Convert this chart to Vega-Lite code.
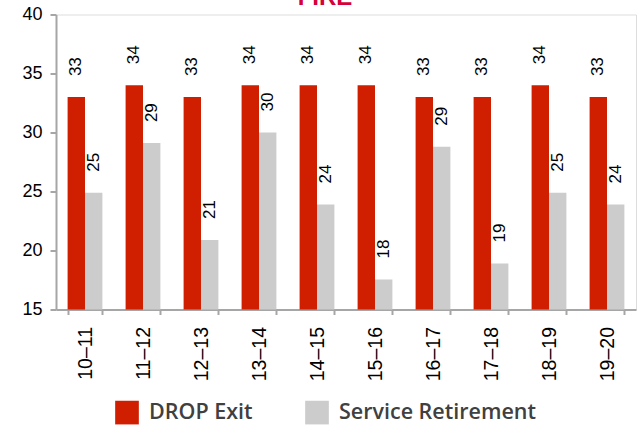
{
  "$schema": "https://vega.github.io/schema/vega-lite/v6.json",
  "width": 580,
  "height": 295,
  "autosize": "none",
  "padding": {"left": 56, "top": 14.5, "right": 2, "bottom": 117.5},
  "background": "white",
  "title": {
    "text": "FIRE",
    "color": "#D6003A",
    "font": "Liberation Sans",
    "fontSize": 24,
    "fontWeight": "bold",
    "anchor": "middle",
    "frame": "group",
    "baseline": "alphabetic",
    "offset": 0,
    "dy": 23,
    "dx": -21
  },
  "data": {
    "values": [
      {"year": "10–11", "series": "DROP Exit", "value": 33},
      {"year": "10–11", "series": "Service Retirement", "value": 24.9},
      {"year": "11–12", "series": "DROP Exit", "value": 34},
      {"year": "11–12", "series": "Service Retirement", "value": 29.1},
      {"year": "12–13", "series": "DROP Exit", "value": 33},
      {"year": "12–13", "series": "Service Retirement", "value": 20.9},
      {"year": "13–14", "series": "DROP Exit", "value": 34},
      {"year": "13–14", "series": "Service Retirement", "value": 30.0},
      {"year": "14–15", "series": "DROP Exit", "value": 34},
      {"year": "14–15", "series": "Service Retirement", "value": 23.9},
      {"year": "15–16", "series": "DROP Exit", "value": 34},
      {"year": "15–16", "series": "Service Retirement", "value": 17.55},
      {"year": "16–17", "series": "DROP Exit", "value": 33},
      {"year": "16–17", "series": "Service Retirement", "value": 28.8},
      {"year": "17–18", "series": "DROP Exit", "value": 33},
      {"year": "17–18", "series": "Service Retirement", "value": 18.9},
      {"year": "18–19", "series": "DROP Exit", "value": 34},
      {"year": "18–19", "series": "Service Retirement", "value": 24.9},
      {"year": "19–20", "series": "DROP Exit", "value": 33},
      {"year": "19–20", "series": "Service Retirement", "value": 23.9}
    ]
  },
  "encoding": {
    "x": {
      "field": "year",
      "type": "nominal",
      "sort": null,
      "scale": {"paddingInner": 0.4, "paddingOuter": 0.2},
      "axis": {
        "title": null,
        "labelAngle": -90,
        "labelAlign": "right",
        "labelBaseline": "middle",
        "labelFont": "Liberation Sans",
        "labelFontSize": 19.5,
        "labelColor": "#000000",
        "labelPadding": 12,
        "domainColor": "#A6A6A6",
        "domainWidth": 2,
        "tickColor": "#A6A6A6",
        "tickWidth": 2,
        "tickSize": 5,
        "tickBand": "extent",
        "tickOffset": -11.6,
        "grid": false
      }
    },
    "xOffset": {"field": "series", "type": "nominal", "sort": ["DROP Exit", "Service Retirement"]},
    "y": {
      "field": "value",
      "type": "quantitative",
      "scale": {"domain": [15, 40], "nice": false, "zero": false},
      "axis": {
        "title": null,
        "values": [15, 20, 25, 30, 35, 40],
        "grid": false,
        "labelFont": "Liberation Sans",
        "labelFontSize": 18,
        "labelColor": "#000000",
        "labelPadding": 8,
        "domainColor": "#A6A6A6",
        "domainWidth": 2,
        "tickColor": "#A6A6A6",
        "tickWidth": 2,
        "tickSize": 6
      }
    }
  },
  "layer": [
    {
      "mark": {"type": "bar", "clip": true},
      "encoding": {
        "color": {
          "field": "series",
          "type": "nominal",
          "scale": {"domain": ["DROP Exit", "Service Retirement"], "range": ["#CF1E00", "#CCCCCC"]},
          "legend": {
            "title": null,
            "orient": "none",
            "legendX": 59,
            "legendY": 386,
            "direction": "horizontal",
            "symbolType": "square",
            "symbolSize": 560,
            "symbolStrokeWidth": 0,
            "labelFont": "Open Sans",
            "labelFontSize": 21.5,
            "labelFontWeight": 600,
            "labelColor": "#404040",
            "labelOffset": 10,
            "labelLimit": 400,
            "columnPadding": 52,
            "encode": {
              "symbols": {"update": {"fill": {"signal": "datum.value === 'DROP Exit' ? '#D50032' : '#CCCCCC'"}, "opacity": {"value": 1}}}
            }
          }
        }
      }
    },
    {
      "mark": {
        "type": "text",
        "angle": -90,
        "align": "left",
        "baseline": "middle",
        "dx": 21,
        "font": "Liberation Sans",
        "fontSize": 17,
        "color": "#000000"
      },
      "encoding": {
        "text": {"field": "value", "type": "quantitative", "format": ".0f"}
      }
    }
  ]
}
